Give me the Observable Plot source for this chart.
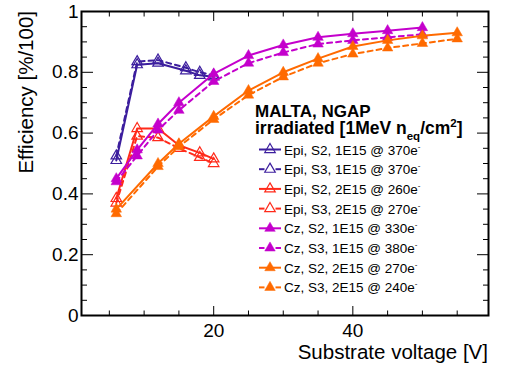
<!DOCTYPE html>
<html><head><meta charset="utf-8">
<script src="https://cdn.jsdelivr.net/npm/d3@7"></script>
<script src="https://cdn.jsdelivr.net/npm/@observablehq/plot@0.6"></script>
<style>
body{margin:0;background:#fff}
#chart{position:relative;width:508px;height:375px}
</style>
</head><body><div id="chart"></div>
<script>
// ---- data ----
const epi1E15Voltage = [6, 9, 12, 16, 18, 20];
const epiS2_1E15 = [0.51, 0.825, 0.83, 0.805, 0.79, 0.785];
const epiS3_1E15 = [0.525, 0.835, 0.84, 0.815, 0.80, 0.79];

const epi2E15Voltage = [6, 9, 12, 15, 18, 20];
const epiS2_2E15 = [0.385, 0.615, 0.615, 0.56, 0.535, 0.515];
const epiS3_2E15 = [0.37, 0.59, 0.585, 0.55, 0.52, 0.50];

const cz1E15Voltage = [6, 9, 12, 15, 20, 25, 30, 35, 40, 45, 50];
const czS2_1E15 = [0.45, 0.545, 0.63, 0.70, 0.795, 0.855, 0.89, 0.915, 0.927, 0.937, 0.947];
const czS3_1E15 = [0.44, 0.525, 0.61, 0.675, 0.77, 0.83, 0.865, 0.893, 0.905, 0.915, 0.925];

const cz2E15Voltage = [6, 12, 15, 20, 25, 30, 35, 40, 45, 50, 55];
const czS2_2E15 = [0.35, 0.50, 0.565, 0.655, 0.74, 0.80, 0.845, 0.885, 0.905, 0.92, 0.93];
const czS3_2E15 = [0.335, 0.49, 0.555, 0.645, 0.725, 0.785, 0.83, 0.86, 0.88, 0.895, 0.91];

const seriesNames = [
  "Epi, S2, 1E15 @ 370e", "Epi, S3, 1E15 @ 370e",
  "Epi, S2, 2E15 @ 260e", "Epi, S3, 2E15 @ 270e",
  "Cz, S2, 1E15 @ 330e", "Cz, S3, 1E15 @ 380e",
  "Cz, S2, 2E15 @ 270e", "Cz, S3, 2E15 @ 240e"
];
const yTicks = [0, 0.2, 0.4, 0.6, 0.8, 1];
const xTicks = [20, 40];

// ---- styles ----
const BLUE = "#3c1e9e", RED = "#ff2a1a", MAG = "#c400cc", ORA = "#ff6a00";
const styleList = [
  {color: BLUE, dashed: false, open: true}, {color: BLUE, dashed: true, open: true},
  {color: RED, dashed: false, open: true}, {color: RED, dashed: true, open: true},
  {color: MAG, dashed: false, open: false}, {color: MAG, dashed: true, open: false},
  {color: ORA, dashed: false, open: false}, {color: ORA, dashed: true, open: false}
];
const seriesData = [
  [epi1E15Voltage, epiS2_1E15], [epi1E15Voltage, epiS3_1E15],
  [epi2E15Voltage, epiS2_2E15], [epi2E15Voltage, epiS3_2E15],
  [cz1E15Voltage, czS2_1E15], [cz1E15Voltage, czS3_1E15],
  [cz2E15Voltage, czS2_2E15], [cz2E15Voltage, czS3_2E15]
];
const rows = seriesData.map(([v, e], k) => v.map((x, i) => ({series: seriesNames[k], v: x, eff: e[i]})));

const minorY = d3.range(0, 1.0001, 0.05).filter(d => Math.abs(d * 5 - Math.round(d * 5)) > 1e-6);
const minorX = d3.range(5, 59.5, 5).filter(d => d % 20 !== 0);

const dataMarks = [];
rows.forEach((data, k) => {
  const s = styleList[k];
  dataMarks.push(Plot.line(data, {x: "v", y: "eff", stroke: s.color, strokeWidth: 2,
    strokeDasharray: s.dashed ? "5,4" : null}));
  dataMarks.push(Plot.dot(data, {x: "v", y: "eff", symbol: "triangle", r: 3.9,
    fill: s.open ? "none" : s.color, stroke: s.color, strokeWidth: s.open ? 1.2 : 0.5}));
});

const FONT = "'Liberation Sans', Arial, Helvetica, sans-serif";
const tk = {fill: "none", label: null, stroke: "black", strokeWidth: 1};
const chart = Plot.plot({
  width: 508, height: 375,
  marginLeft: 81, marginRight: 20, marginTop: 11, marginBottom: 60,
  style: {fontFamily: FONT, background: "white", color: "black"},
  x: {domain: [1, 59.5]},
  y: {domain: [0, 1]},
  marks: [
    ...dataMarks,
    Plot.axisY(yTicks, {...tk, anchor: "left", tickSize: -12}),
    Plot.axisY(minorY, {...tk, anchor: "left", tickSize: -6}),
    Plot.axisY(yTicks, {...tk, anchor: "right", tickSize: -12}),
    Plot.axisY(minorY, {...tk, anchor: "right", tickSize: -6}),
    Plot.axisX(xTicks, {...tk, anchor: "bottom", tickSize: -9}),
    Plot.axisX(minorX, {...tk, anchor: "bottom", tickSize: -4.5}),
    Plot.axisX(xTicks, {...tk, anchor: "top", tickSize: -9}),
    Plot.axisX(minorX, {...tk, anchor: "top", tickSize: -4.5}),
    Plot.axisY(yTicks, {anchor: "left", tickSize: 0, tickPadding: 3, label: null,
      tickFormat: d => String(d), fontSize: 19}),
    Plot.axisX(xTicks, {anchor: "bottom", tickSize: 0, tickPadding: 8, label: null,
      tickFormat: d => String(d), fontSize: 19}),
    Plot.frame({stroke: "black", strokeWidth: 2})
  ]
});
document.getElementById("chart").appendChild(chart);

// ---- axis titles & legend ----
const svg = d3.select(chart);
svg.append("text").attr("x", 488).attr("y", 359).attr("text-anchor", "end")
  .attr("font-size", 20.5).attr("font-family", FONT).attr("fill", "black").text("Substrate voltage [V]");
svg.append("text").attr("transform", "translate(33,11) rotate(-90)").attr("text-anchor", "end")
  .attr("font-size", 20.5).attr("font-family", FONT).attr("fill", "black").text("Efficiency [%/100]");

const leg = svg.append("g").attr("font-family", FONT).attr("fill", "black").attr("text-anchor", "start");
leg.append("text").attr("x", 255).attr("y", 117).attr("font-size", 17).attr("font-weight", "bold").text("MALTA, NGAP");
const t2 = leg.append("text").attr("x", 255).attr("y", 134).attr("font-size", 17.5).attr("font-weight", "bold");
t2.append("tspan").text("irradiated [1MeV n");
t2.append("tspan").attr("dy", 6).attr("font-size", 11.5).text("eq");
t2.append("tspan").attr("dy", -6).text("/cm");
t2.append("tspan").attr("dy", -7).attr("font-size", 11.5).text("2");
t2.append("tspan").attr("dy", 7).text("]");

const tri = d3.symbol(d3.symbolTriangle, Math.PI * 3.9 * 3.9);
seriesNames.forEach((name, k) => {
  const s = styleList[k];
  const cy = 149.5 + k * 19.7;
  const g = leg.append("g");
  if (s.dashed) {
    g.append("line").attr("x1", 259).attr("x2", 264.5).attr("y1", cy).attr("y2", cy).attr("stroke", s.color).attr("stroke-width", 2);
    g.append("line").attr("x1", 275.5).attr("x2", 281).attr("y1", cy).attr("y2", cy).attr("stroke", s.color).attr("stroke-width", 2);
  } else {
    g.append("line").attr("x1", 259).attr("x2", 281).attr("y1", cy).attr("y2", cy).attr("stroke", s.color).attr("stroke-width", 2);
  }
  g.append("path").attr("d", tri()).attr("transform", `translate(270,${cy})`)
    .attr("fill", s.open ? "none" : s.color).attr("stroke", s.color).attr("stroke-width", s.open ? 1.2 : 0.5);
  const t = g.append("text").attr("x", 284).attr("y", cy + 5).attr("font-size", 13.5);
  t.append("tspan").text(name);
  t.append("tspan").attr("dy", -6).attr("font-size", 8).text("-");
});
</script>
</body></html>
